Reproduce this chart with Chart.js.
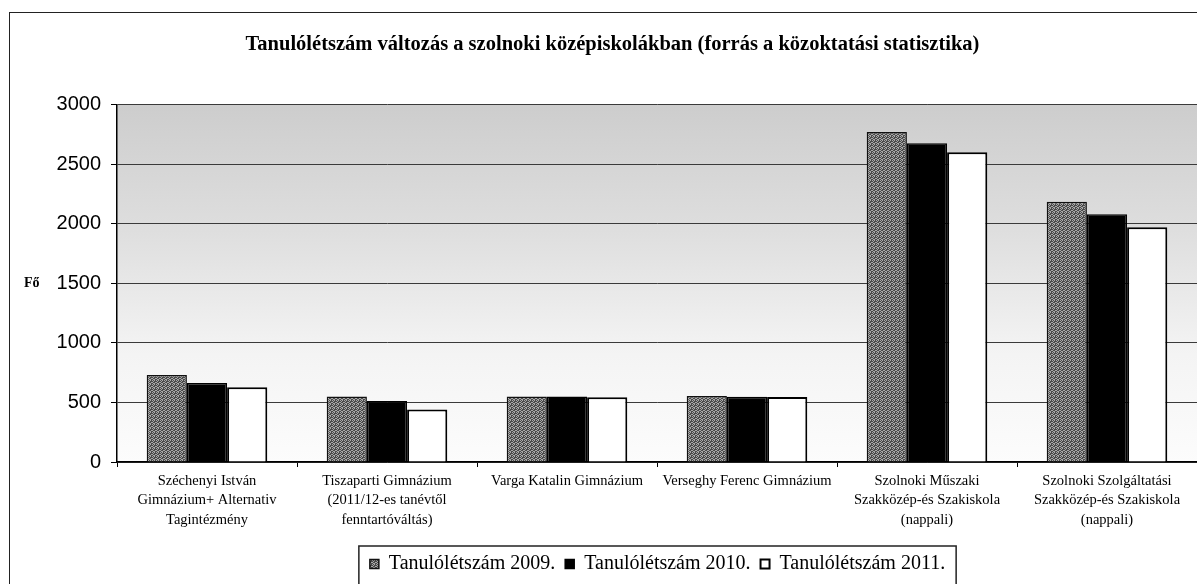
<!DOCTYPE html>
<html>
<head>
<meta charset="utf-8">
<script src="https://cdn.jsdelivr.net/npm/chart.js@4.4.1/dist/chart.umd.min.js"></script>
<style>
  body { margin: 0; background: #fff; overflow: hidden; }
  #wrap { position: absolute; left: 0; top: 0; width: 1197px; height: 584px; }
  #frame { position: absolute; left: 9px; top: 12px; width: 1200px; height: 600px; border: 1.5px solid #222; pointer-events: none; }
</style>
</head>
<body>
<div id="frame"></div>
<div id="wrap"><canvas id="chart"></canvas></div>
<script>
const schools = [
  ['Széchenyi István', 'Gimnázium+ Alternativ', 'Tagintézmény'],
  ['Tiszaparti Gimnázium', '(2011/12-es tanévtől', 'fenntartóváltás)'],
  'Varga Katalin Gimnázium',
  'Verseghy Ferenc Gimnázium',
  ['Szolnoki Műszaki', 'Szakközép-és Szakiskola', '(nappali)'],
  ['Szolnoki Szolgáltatási', 'Szakközép-és Szakiskola', '(nappali)']
];
const students2009 = [730, 550, 550, 555, 2770, 2185];
const students2010 = [664, 511, 550, 548, 2675, 2080];
const students2011 = [627, 440, 543, 545, 2600, 1970];
const yTicks = [0, 500, 1000, 1500, 2000, 2500, 3000];

const legendFont = { family: 'Liberation Serif', size: 20 };
const legendBox = 9;
const legendPad = 10;

// dithered gray fill like the scanned 2009 bars
function grayPattern() {
  const c = document.createElement('canvas');
  c.width = 4; c.height = 4;
  const g = c.getContext('2d');
  g.fillStyle = '#4a4a4a';
  g.fillRect(0, 0, 4, 4);
  g.fillStyle = '#a8a8a8';
  [[0,0],[2,0],[1,1],[3,2],[0,2],[2,3],[1,3]].forEach(p => g.fillRect(p[0], p[1], 1, 1));
  return g.createPattern(c, 'repeat');
}
const pat = grayPattern();

const backdrop = {
  id: 'backdrop',
  beforeDraw(chart) {
    const { ctx, chartArea: a } = chart;
    const grad = ctx.createLinearGradient(0, a.top, 0, a.bottom);
    grad.addColorStop(0, '#cdcdcd');
    grad.addColorStop(0.35, '#dedede');
    grad.addColorStop(0.7, '#f4f4f4');
    grad.addColorStop(1, '#fcfcfc');
    ctx.save();
    ctx.fillStyle = grad;
    ctx.fillRect(a.left, a.top, a.right - a.left, a.bottom - a.top);
    ctx.restore();
  },
  afterLayout(chart) {
    // title and legend are off-centre to the right in the original
    chart.titleBlock.left += 28;
    chart.legend.left += 118;
  },
  afterDraw(chart) {
    const ctx = chart.ctx;
    const lg = chart.legend;
    ctx.save();
    ctx.fillStyle = '#000';
    ctx.font = 'bold 14px "Liberation Serif"';
    ctx.textAlign = 'left';
    ctx.textBaseline = 'middle';
    ctx.fillText('Fő', 24, 283);

    // border round the legend
    ctx.font = legendFont.size + 'px "' + legendFont.family + '"';
    let total = 0;
    chart.data.datasets.forEach(ds => {
      total += legendBox + legendFont.size / 2 + ctx.measureText(ds.label).width + legendPad;
    });
    const cx = (lg.left + lg.right) / 2;
    ctx.strokeStyle = '#222';
    ctx.lineWidth = 1.5;
    ctx.strokeRect(cx - total / 2 - 6, lg.top + 2, total + 12, 40);
    ctx.restore();
  }
};

new Chart(document.getElementById('chart'), {
  type: 'bar',
  data: {
    labels: schools,
    datasets: [
      { label: 'Tanulólétszám 2009.', data: students2009, backgroundColor: pat, borderColor: '#111', borderWidth: 1.5 },
      { label: 'Tanulólétszám 2010.', data: students2010, backgroundColor: '#000', borderColor: '#000', borderWidth: 1.5 },
      { label: 'Tanulólétszám 2011.', data: students2011, backgroundColor: '#fff', borderColor: '#000', borderWidth: 2 }
    ]
  },
  options: {
    responsive: true,
    maintainAspectRatio: false,
    animation: false,
    categoryPercentage: 0.67,
    barPercentage: 1,
    layout: { padding: { left: 0, right: 0, top: 0, bottom: 0 } },
    plugins: {
      title: {
        display: true,
        text: 'Tanulólétszám változás a szolnoki középiskolákban (forrás a közoktatási statisztika)',
        color: '#000',
        font: { family: 'Liberation Serif', size: 20.5, weight: 'bold' },
        padding: { top: 32, bottom: 48 }
      },
      legend: {
        position: 'bottom',
        labels: {
          color: '#000',
          font: legendFont,
          boxWidth: legendBox,
          boxHeight: legendBox,
          padding: legendPad
        }
      },
      tooltip: { enabled: false }
    },
    scales: {
      x: {
        grid: { display: true, drawOnChartArea: false, tickLength: 5, tickColor: '#000' },
        border: { color: '#000', width: 1.5 },
        ticks: {
          color: '#000',
          font: { family: 'Liberation Serif', size: 14.5, lineHeight: 1.35 },
          maxRotation: 0,
          autoSkip: false,
          padding: 4
        },
        afterFit(scale) { scale.height = 82; }
      },
      y: {
        min: 0,
        max: 3000,
        afterBuildTicks(scale) { scale.ticks = yTicks.map(v => ({ value: v })); },
        grid: { color: '#3a3a3a', lineWidth: 1, tickLength: 6, tickColor: '#000' },
        border: { color: '#000', width: 1.5 },
        ticks: {
          color: '#000',
          font: { family: 'Liberation Sans', size: 20 },
          padding: 10,
          callback: v => String(v)
        },
        afterFit(scale) { scale.width = 117; }
      }
    }
  },
  plugins: [backdrop]
});
</script>
</body>
</html>
